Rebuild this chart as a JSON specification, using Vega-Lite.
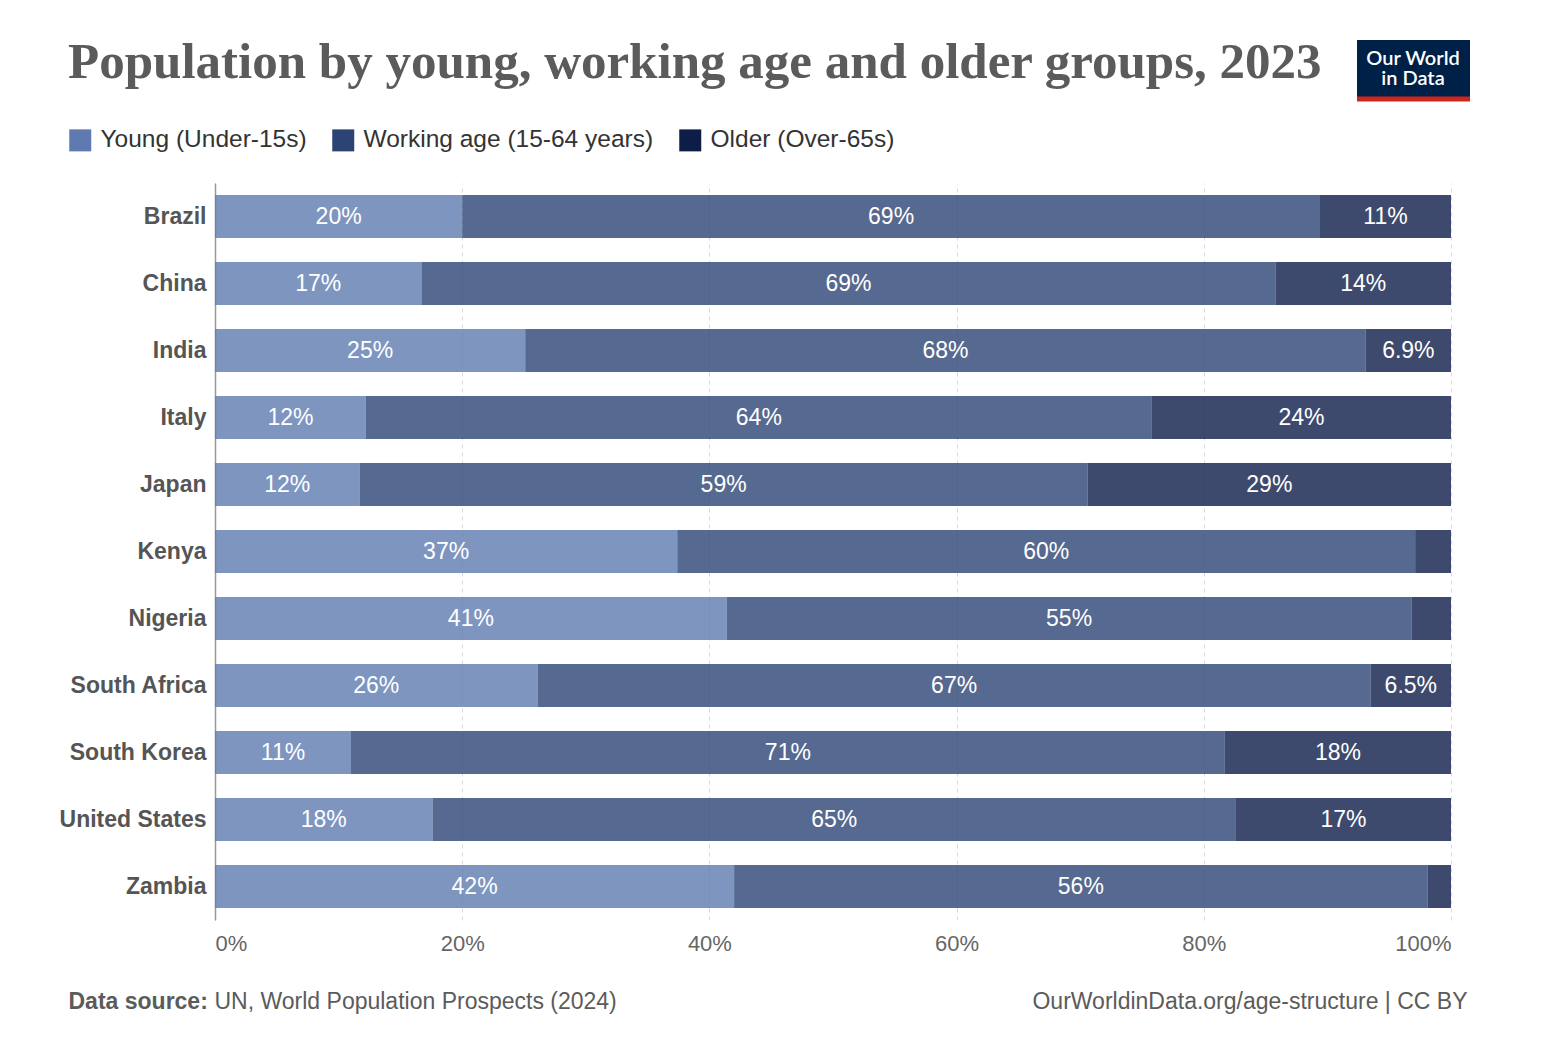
{
  "$schema": "https://vega.github.io/schema/vega-lite/v6.json",
  "width": 1236,
  "height": 737,
  "autosize": {"type": "none"},
  "padding": {"left": 215, "top": 183, "right": 93, "bottom": 126},
  "background": "white",
  "config": {
    "font": "Liberation Sans",
    "view": {"stroke": null},
    "legend": {"strokeWidth": 5, "strokeDash": [0, 172, 113, 1000]}
  },
  "title": {
    "text": "Population by young, working age and older groups, 2023",
    "anchor": "start",
    "frame": "group",
    "dx": -147,
    "offset": 0,
    "dy": 91,
    "baseline": "alphabetic",
    "font": "Liberation Serif",
    "fontSize": 51,
    "fontWeight": "bold",
    "color": "#5b5b5b"
  },
  "data": {
    "values": [
      {"country": "Brazil", "group": "Young (Under-15s)", "value": 0.200},
      {"country": "Brazil", "group": "Working age (15-64 years)", "value": 0.694},
      {"country": "Brazil", "group": "Older (Over-65s)", "value": 0.106},
      {"country": "China", "group": "Young (Under-15s)", "value": 0.167},
      {"country": "China", "group": "Working age (15-64 years)", "value": 0.691},
      {"country": "China", "group": "Older (Over-65s)", "value": 0.142},
      {"country": "India", "group": "Young (Under-15s)", "value": 0.251},
      {"country": "India", "group": "Working age (15-64 years)", "value": 0.680},
      {"country": "India", "group": "Older (Over-65s)", "value": 0.069},
      {"country": "Italy", "group": "Young (Under-15s)", "value": 0.122},
      {"country": "Italy", "group": "Working age (15-64 years)", "value": 0.636},
      {"country": "Italy", "group": "Older (Over-65s)", "value": 0.242},
      {"country": "Japan", "group": "Young (Under-15s)", "value": 0.117},
      {"country": "Japan", "group": "Working age (15-64 years)", "value": 0.589},
      {"country": "Japan", "group": "Older (Over-65s)", "value": 0.294},
      {"country": "Kenya", "group": "Young (Under-15s)", "value": 0.374},
      {"country": "Kenya", "group": "Working age (15-64 years)", "value": 0.597},
      {"country": "Kenya", "group": "Older (Over-65s)", "value": 0.029},
      {"country": "Nigeria", "group": "Young (Under-15s)", "value": 0.414},
      {"country": "Nigeria", "group": "Working age (15-64 years)", "value": 0.554},
      {"country": "Nigeria", "group": "Older (Over-65s)", "value": 0.032},
      {"country": "South Africa", "group": "Young (Under-15s)", "value": 0.261},
      {"country": "South Africa", "group": "Working age (15-64 years)", "value": 0.674},
      {"country": "South Africa", "group": "Older (Over-65s)", "value": 0.065},
      {"country": "South Korea", "group": "Young (Under-15s)", "value": 0.110},
      {"country": "South Korea", "group": "Working age (15-64 years)", "value": 0.707},
      {"country": "South Korea", "group": "Older (Over-65s)", "value": 0.183},
      {"country": "United States", "group": "Young (Under-15s)", "value": 0.176},
      {"country": "United States", "group": "Working age (15-64 years)", "value": 0.650},
      {"country": "United States", "group": "Older (Over-65s)", "value": 0.174},
      {"country": "Zambia", "group": "Young (Under-15s)", "value": 0.420},
      {"country": "Zambia", "group": "Working age (15-64 years)", "value": 0.561},
      {"country": "Zambia", "group": "Older (Over-65s)", "value": 0.019}
    ]
  },
  "transform": [
    {"stack": "value", "groupby": ["country"], "sort": [{"field": "group", "order": "descending"}], "as": ["x0", "x1"]},
    {"calculate": "(datum.x0 + datum.x1) / 2", "as": "xmid"}
  ],
  "layer": [
    {
      "mark": {"type": "bar", "opacity": 0.8},
      "encoding": {
        "x": {
          "field": "x0", "type": "quantitative",
          "scale": {"domain": [0, 1], "nice": false, "zero": true},
          "axis": {
            "orient": "bottom",
            "values": [0, 0.2, 0.4, 0.6, 0.8, 1],
            "format": ".0%",
            "labelFlush": true,
            "labelFontSize": 22,
            "labelColor": "#666666",
            "labelPadding": 13,
            "ticks": false,
            "domain": false,
            "grid": true,
            "gridDash": [4, 4],
            "gridColor": "#d9d9d9",
            "gridWidth": 1,
            "title": "UN, World Population Prospects (2024)",
            "titleX": -1,
            "titleY": 88,
            "titleAlign": "left",
            "titleAnchor": null,
            "titleBaseline": "alphabetic",
            "titleFontSize": 23,
            "titleFontWeight": "normal",
            "titleColor": "#5b5b5b"
          }
        },
        "x2": {"field": "x1"},
        "y": {
          "field": "country", "type": "nominal",
          "scale": {"paddingInner": 0.36, "paddingOuter": 0.18},
          "axis": {
            "orient": "left",
            "labelFontSize": 23,
            "labelFontWeight": "bold",
            "labelColor": "#555555",
            "labelPadding": 9,
            "ticks": false,
            "domain": true,
            "domainColor": "#999999",
            "domainWidth": 1.5,
            "title": "Data source:",
            "titleAngle": 0,
            "titleX": -147,
            "titleY": 825,
            "titleAlign": "left",
            "titleBaseline": "alphabetic",
            "titleFontSize": 23,
            "titleFontWeight": "bold",
            "titleColor": "#5b5b5b"
          }
        },
        "color": {
          "field": "group", "type": "nominal",
          "scale": {
            "domain": ["Young (Under-15s)", "Working age (15-64 years)", "Older (Over-65s)"],
            "range": ["#5e7ab0", "#2c4474", "#0c1d48"]
          },
          "legend": {
            "orient": "none",
            "legendX": -147,
            "legendY": -55,
            "direction": "horizontal",
            "title": null,
            "symbolType": "square",
            "symbolSize": 484,
            "symbolStrokeWidth": 0,
            "symbolOpacity": 1,
            "labelFontSize": 24.5,
            "labelLimit": 500,
            "labelColor": "#333333",
            "labelOffset": 8,
            "columnPadding": 24,
            "padding": 0
          }
        },
        "strokeDash": {
          "datum": "OWID",
          "legend": {
            "orient": "none",
            "legendX": 1142,
            "legendY": -143,
            "title": ["Our World", "in Data"],
            "titleColor": "white",
            "titleFont": "Lato",
            "titleFontSize": 20,
            "titleFontWeight": 600,
            "titleLineHeight": 20,
            "titleAnchor": "middle",
            "titleAlign": "center",
            "titlePadding": 0,
            "fillColor": "#002147",
            "strokeColor": "#ce261e",
            "padding": 9,
            "symbolType": "circle",
            "symbolSize": 0,
            "symbolOpacity": 0,
            "symbolStrokeWidth": 0,
            "labelExpr": "''",
            "labelOffset": 0,
            "labelFontSize": 1,
            "encode": {
              "symbols": {"update": {"opacity": {"value": 0}, "strokeWidth": {"value": 0}}}
            }
          }
        }
      }
    },
    {
      "transform": [{"filter": "datum.value >= 0.05"}],
      "mark": {"type": "text", "color": "white", "fontSize": 23, "align": "center", "baseline": "middle"},
      "encoding": {
        "x": {"field": "xmid", "type": "quantitative"},
        "y": {
          "field": "country", "type": "nominal",
          "axis": {
            "orient": "right",
            "labels": false,
            "ticks": false,
            "domain": false,
            "grid": false,
            "title": "OurWorldinData.org/age-structure | CC BY",
            "titleAngle": 0,
            "titleX": 16,
            "titleY": 825,
            "titleAlign": "right",
            "titleBaseline": "alphabetic",
            "titleFontSize": 23,
            "titleFontWeight": "normal",
            "titleColor": "#5b5b5b"
          }
        },
        "text": {"field": "value", "type": "quantitative", "format": ".2p"}
      }
    }
  ],
  "resolve": {"axis": {"y": "independent"}}
}
